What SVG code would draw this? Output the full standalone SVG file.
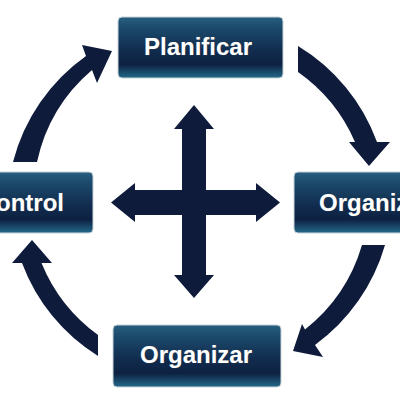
<svg xmlns="http://www.w3.org/2000/svg" width="400" height="400" viewBox="0 0 400 400">
  <defs>
    <linearGradient id="boxGrad" x1="0" y1="0" x2="0" y2="1">
      <stop offset="0" stop-color="#275f80"/>
      <stop offset="0.18" stop-color="#1b4a6c"/>
      <stop offset="0.55" stop-color="#112c4e"/>
      <stop offset="0.78" stop-color="#0d2142"/>
      <stop offset="1" stop-color="#246a8a"/>
    </linearGradient>
    <style>
      .box { fill: url(#boxGrad); stroke: #c9d3da; stroke-width: 1; }
      .label { font-family: "Liberation Sans", Arial, sans-serif; font-weight: bold; font-size: 24px; fill: #ffffff; stroke: #3a4a5a; stroke-width: 0.6; paint-order: stroke; }
      .arrow { fill: #0f1b3b; }
    </style>
  </defs>
  <rect width="400" height="400" fill="#ffffff"/>

  <g id="connectors">
    <path class="arrow" d="M13,162 A187,187 0 0 1 86,56 L82,45 L112,51 L97,83 L92,70 A167,167 0 0 0 37,162 Z"/>
    <path class="arrow" d="M298,46 A187,187 0 0 1 377,142 L390,142 L369,166 L349,142 L355,142 A166,166 0 0 0 298,72 Z"/>
    <path class="arrow" d="M385,245 A188,188 0 0 1 315,345 L323,357 L293,351 L302,324 L305,329.5 A168,168 0 0 0 362,245 Z"/>
    <path class="arrow" d="M98,356 A186,186 0 0 1 22,263 L12,263 L32,240 L52,263 L41.5,263 A167,167 0 0 0 98,335 Z"/>
    <path class="arrow" d="M194,105 L214,129 L206,129 L206,190 L256,190 L256,183 L280,202.5 L256,222 L256,215 L206,215 L206,275 L214,275 L194,298 L174,275 L182,275 L182,215 L135,215 L135,222 L111,202.5 L135,183 L135,190 L182,190 L182,129 L174,129 Z"/>
  </g>

  <g id="planificar">
    <rect class="box" x="118" y="17" width="165" height="61" rx="4"/>
    <text class="label" x="198" y="55" text-anchor="middle">Planificar</text>
  </g>
  <g id="control">
    <rect class="box" x="-72" y="172" width="165" height="61" rx="4"/>
    <text class="label" x="64" y="211" text-anchor="end">Control</text>
  </g>
  <g id="organizar-right">
    <rect class="box" x="294" y="172" width="165" height="61" rx="4"/>
    <text class="label" x="319" y="211">Organizar</text>
  </g>
  <g id="organizar-bottom">
    <rect class="box" x="113" y="325" width="168" height="62" rx="4"/>
    <text class="label" x="196" y="363" text-anchor="middle">Organizar</text>
  </g>
</svg>
